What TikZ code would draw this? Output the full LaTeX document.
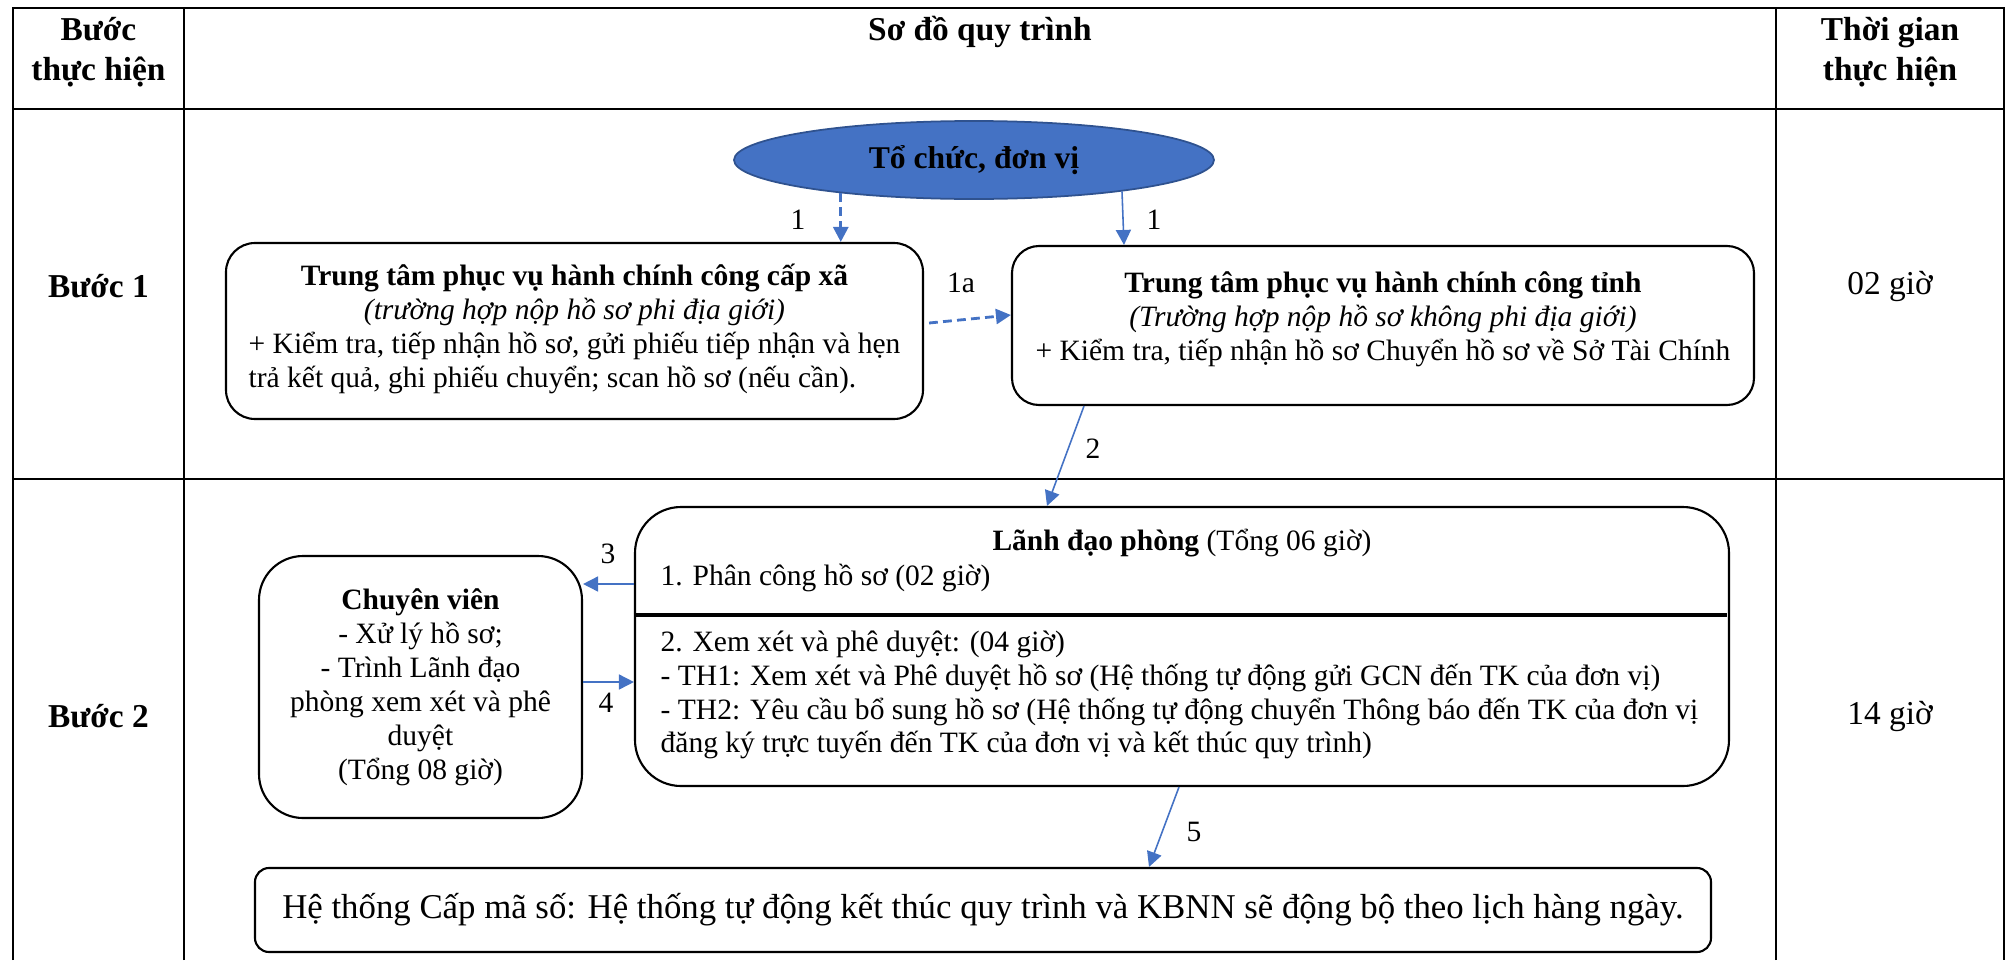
\documentclass[tikz,border=0pt]{standalone}
\usepackage{fontspec}
\setmainfont{Liberation Serif}
\usepackage{tikz}
\usetikzlibrary{arrows.meta,shapes.geometric}
\definecolor{wordBlue}{RGB}{68,114,196}
\definecolor{wordBlueEdge}{RGB}{47,82,143}
\newcommand{\boxfont}{\fontsize{8.4}{9.65}\selectfont}
\newcommand{\headfont}{\fontsize{9.5}{11.4}\selectfont}

\begin{document}
\begin{tikzpicture}[
  grid/.style={line width=0.75pt},
  headcell/.style={font=\headfont\bfseries,align=center,inner sep=0pt},
  timecell/.style={font=\headfont,inner sep=0pt},
  orgunit/.style={ellipse,draw=wordBlueEdge,fill=wordBlue,line width=0.5pt,minimum width=4.80cm,minimum height=0.78cm,inner sep=0pt,font=\fontsize{9}{10.8}\selectfont\bfseries},
  procbox/.style={draw,line width=0.6pt,rounded corners=#1,align=center,font=\boxfont,inner sep=0pt},
  procbox/.default=0.28cm,
  boxtext/.style={font=\boxfont,inner sep=0pt},
  steplbl/.style={font=\boxfont,inner sep=0pt},
  flow/.style={draw=wordBlue,line width=0.45pt,-{Triangle[length=1.5mm,width=1.5mm]}},
  flowdash/.style={flow,line width=0.8pt,dash pattern=on 2.5pt off 1.5pt}
]
  \useasboundingbox (0,0) rectangle (20.11,9.60);

  % Table frame and rules.
  \draw[grid] (0.13,0) -- (0.13,9.52) -- (20.04,9.52) -- (20.04,0);
  \foreach \x in {1.84,17.76} {
    \draw[grid] (\x,0) -- (\x,9.52);
  }
  \foreach \y in {8.51,4.81} {
    \draw[grid] (0.13,\y) -- (20.04,\y);
  }

  % Header row.
  \node[headcell] (hStep) at (0.985,9.08) {Bước\\thực hiện};
  \node[headcell] (hFlow) at (9.80,9.28) {Sơ đồ quy trình};
  \node[headcell] (hTime) at (18.90,9.08) {Thời gian\\thực hiện};

  % Step column and time column.
  \node[headcell] (step1) at (0.985,6.74) {Bước 1};
  \node[headcell] (step2) at (0.985,2.44) {Bước 2};
  \node[timecell] (time1) at (18.90,6.74) {02 giờ};
  \node[timecell] (time2) at (18.90,2.44) {14 giờ};

  % Step 1: reception.
  \node[orgunit] (org) at (9.74,8.00) {Tổ chức, đơn vị};

  \node[procbox=0.29cm,minimum width=6.97cm,minimum height=1.76cm] (xa) at (5.745,6.29)
    {\textbf{Trung tâm phục vụ hành chính công cấp xã}\\\textit{(trường hợp nộp hồ sơ phi địa giới)}\\
     \begin{tabular}[t]{@{}l@{}}+ Kiểm tra, tiếp nhận hồ sơ, gửi phiếu tiếp nhận và hẹn\\trả kết quả, ghi phiếu chuyển; scan hồ sơ (nếu cần).\end{tabular}};

  \node[procbox=0.27cm,minimum width=7.42cm,minimum height=1.59cm] (tinh) at (13.83,6.345)
    {\textbf{Trung tâm phục vụ hành chính công tỉnh}\\\textit{(Trường hợp nộp hồ sơ không phi địa giới)}\\+ Kiểm tra, tiếp nhận hồ sơ Chuyển hồ sơ về Sở Tài Chính\\[-0.15cm]\mbox{}};

  \draw[flowdash] (org.194) -- (org.194 |- xa.north);
  \draw[flow] (org.348) -- (tinh.north -| 11.24,0);
  \draw[flowdash] ([xshift=0.05cm,yshift=0.08cm]xa.east) -- ([yshift=0.105cm]tinh.west);
  \node[steplbl] (lblOrgXa) at (7.98,7.40) {1};
  \node[steplbl] (lblOrgTinh) at (11.54,7.40) {1};
  \node[steplbl] (lblXaTinh) at (9.61,6.77) {1a};

  % Step 2: processing.
  \node[procbox=0.46cm,minimum width=10.94cm,minimum height=2.79cm] (lanhdao) at (11.82,3.135) {};
  \draw[line width=0.9pt] (lanhdao.west |- 0,3.45) -- ([xshift=-0.03cm]lanhdao.east |- 0,3.45);
  \node[boxtext] (ldTitle) at (11.82,4.17) {\textbf{Lãnh đạo phòng} (Tổng 06 giờ)};
  \node[boxtext,anchor=west] (ldAssign) at (6.60,3.82) {1. Phân công hồ sơ (02 giờ)};
  \node[boxtext,anchor=west,align=left] (ldReview) at (6.60,2.65)
    {2. Xem xét và phê duyệt: (04 giờ)\\
     - TH1: Xem xét và Phê duyệt hồ sơ (Hệ thống tự động gửi GCN đến TK của đơn vị)\\
     - TH2: Yêu cầu bổ sung hồ sơ (Hệ thống tự động chuyển Thông báo đến TK của đơn vị\\
     đăng ký trực tuyến đến TK của đơn vị và kết thúc quy trình)};

  \node[procbox=0.44cm,minimum width=3.23cm,minimum height=2.62cm] (cv) at (4.205,2.73)
    {\textbf{Chuyên viên}\\- Xử lý hồ sơ;\\- Trình Lãnh đạo\\phòng xem xét và phê\\duyệt\\(Tổng 08 giờ)};

  \node[procbox=0.14cm,minimum width=14.56cm,minimum height=0.84cm,font=\fontsize{9.9}{11.9}\selectfont] (sync) at (9.83,0.50)
    {Hệ thống Cấp mã số: Hệ thống tự động kết thúc quy trình và KBNN sẽ động bộ theo lịch hàng ngày.};

  \draw[flow] (tinh.south -| 10.84,0) -- (lanhdao.north -| 10.47,0);
  \draw[flow] (lanhdao.west |- 0,3.76) -- (cv.east |- 0,3.76);
  \draw[flow] (cv.east |- 0,2.78) -- (lanhdao.west |- 0,2.78);
  \draw[flow] (lanhdao.south -| 11.79,0) -- (sync.north -| 11.49,0);
  \node[steplbl] (lblTinhLd) at (10.93,5.11) {2};
  \node[steplbl] (lblLdCv) at (6.08,4.06) {3};
  \node[steplbl] (lblCvLd) at (6.06,2.57) {4};
  \node[steplbl] (lblLdSync) at (11.94,1.28) {5};
\end{tikzpicture}
\end{document}
